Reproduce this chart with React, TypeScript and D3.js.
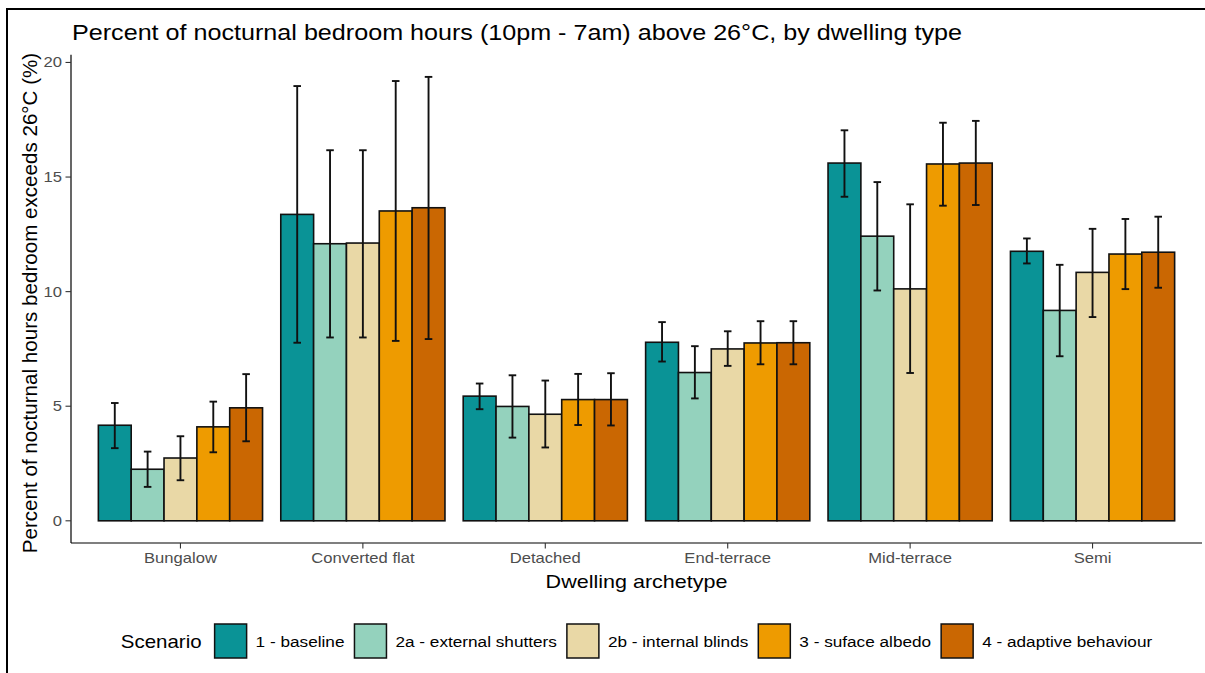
import React from "react";
import * as d3 from "d3";

const categories = ["Bungalow", "Converted flat", "Detached", "End-terrace", "Mid-terrace", "Semi"];
const scenarios = ["1 - baseline", "2a - external shutters", "2b - internal blinds", "3 - suface albedo", "4 - adaptive behaviour"];
const colors = ["#0A9396", "#94D2BD", "#E9D8A6", "#EE9B00", "#CA6702"];

// mean per scenario across categories
const meanBaseline = [4.17, 13.37, 5.44, 7.79, 15.61, 11.76];
const meanShutters = [2.25, 12.09, 4.99, 6.47, 12.42, 9.18];
const meanBlinds = [2.74, 12.12, 4.65, 7.5, 10.12, 10.84];
const meanAlbedo = [4.1, 13.52, 5.29, 7.76, 15.57, 11.64];
const meanAdaptive = [4.93, 13.66, 5.29, 7.77, 15.61, 11.72];

const loBaseline = [3.17, 7.77, 4.87, 6.95, 14.14, 11.23];
const loShutters = [1.48, 8.0, 3.63, 5.34, 10.05, 7.18];
const loBlinds = [1.77, 8.0, 3.2, 6.76, 6.45, 8.89];
const loAlbedo = [2.99, 7.85, 4.18, 6.83, 13.75, 10.11];
const loAdaptive = [3.47, 7.93, 4.16, 6.83, 13.78, 10.17];

const hiBaseline = [5.14, 18.97, 5.99, 8.67, 17.04, 12.32];
const hiShutters = [3.02, 16.17, 6.35, 7.62, 14.78, 11.17];
const hiBlinds = [3.69, 16.17, 6.12, 8.27, 13.81, 12.74];
const hiAlbedo = [5.2, 19.19, 6.41, 8.71, 17.37, 13.17];
const hiAdaptive = [6.4, 19.37, 6.44, 8.71, 17.45, 13.27];

const yTicks = [0, 5, 10, 15, 20];

const titleText = "Percent of nocturnal bedroom hours (10pm - 7am) above 26°C, by dwelling type";
const xTitle = "Dwelling archetype";
const yTitle = "Percent of nocturnal hours bedroom exceeds 26°C (%)";
const legendTitle = "Scenario";

const means = [meanBaseline, meanShutters, meanBlinds, meanAlbedo, meanAdaptive];
const los = [loBaseline, loShutters, loBlinds, loAlbedo, loAdaptive];
const his = [hiBaseline, hiShutters, hiBlinds, hiAlbedo, hiAdaptive];

const W = 1205;
const H = 673;
const FONT = "'Liberation Sans', Arial, Helvetica, sans-serif";
const SX = 1.17;

const panel = { left: 71, right: 1202, top: 54.7, bottom: 543 };

function measure(text: string, size: number): number {
  if (typeof document === "undefined") return text.length * size * 0.5;
  const c = document.createElement("canvas").getContext("2d");
  if (!c) return text.length * size * 0.5;
  c.font = `${size}px 'Liberation Sans', Arial, sans-serif`;
  return c.measureText(text).width * SX;
}

function SText(props: { x: number; y: number; size: number; anchor?: string; fill?: string; children: string }) {
  const { x, y, size, anchor = "start", fill = "#000", children } = props;
  return (
    <text
      transform={`translate(${x},${y}) scale(${SX},1)`}
      fontSize={size}
      fontFamily={FONT}
      textAnchor={anchor}
      fill={fill}
    >
      {children}
    </text>
  );
}

export default function App() {
  const allHi = his.flat();
  const maxV = d3.max(allHi) as number;
  const minV = 0;
  const expand = (maxV - minV) * 0.05;
  const y = d3.scaleLinear().domain([minV - expand, maxV + expand]).range([panel.bottom, panel.top]);

  const x = d3.scaleBand<string>().domain(categories).range([panel.left, panel.right]).paddingInner(0.1).paddingOuter(0.15);
  const xi = d3.scaleBand<string>().domain(scenarios).range([0, x.bandwidth()]).padding(0);
  const bw = xi.bandwidth();
  const capW = bw * 0.23;

  // legend layout
  const legTitleSize = 17.5;
  const legTextSize = 14.7;
  const keyW = 32;
  const keyH = 34;
  const gapTitle = 13;
  const gapKeyLabel = 9;
  const gapItem = 10;
  const titleW = measure(legendTitle, legTitleSize);
  const labelWs = scenarios.map((s) => measure(s, legTextSize));
  const totalW = titleW + gapTitle + labelWs.reduce((a, w) => a + keyW + gapKeyLabel + w, 0) + gapItem * (scenarios.length - 1);
  const legCenter = (panel.left + panel.right) / 2;
  const legStart = legCenter - totalW / 2;
  const legY = 641;
  const itemX: number[] = [];
  let cx = legStart + titleW + gapTitle;
  labelWs.forEach((w) => {
    itemX.push(cx);
    cx += keyW + gapKeyLabel + w + gapItem;
  });

  return (
    <svg width={W} height={H} style={{ position: "absolute", left: 0, top: 0, display: "block", background: "#fff" }}>
      <rect x={0} y={0} width={W} height={H} fill="#fff" />
      {/* outer border */}
      <path d={`M7,${H + 5} L7,9 L${W + 5},9`} fill="none" stroke="#000" strokeWidth={2} />

      {/* title */}
      <SText x={72} y={39.5} size={21.5}>{titleText}</SText>

      {/* bars */}
      {categories.map((cat, ci) => (
        <g key={cat} transform={`translate(${x(cat)},0)`}>
          {scenarios.map((s, si) => (
            <rect
              key={s}
              x={xi(s)}
              y={y(means[si][ci])}
              width={bw}
              height={y(0) - y(means[si][ci])}
              fill={colors[si]}
              stroke="#111"
              strokeWidth={1.6}
            />
          ))}
          {scenarios.map((s, si) => {
            const c = (xi(s) as number) + bw / 2;
            const yl = y(los[si][ci]);
            const yh = y(his[si][ci]);
            return (
              <g key={s + "e"} stroke="#111" strokeWidth={1.9}>
                <line x1={c} x2={c} y1={yl} y2={yh} />
                <line x1={c - capW / 2} x2={c + capW / 2} y1={yl} y2={yl} />
                <line x1={c - capW / 2} x2={c + capW / 2} y1={yh} y2={yh} />
              </g>
            );
          })}
        </g>
      ))}

      {/* y axis */}
      <line x1={panel.left} x2={panel.left} y1={panel.top} y2={panel.bottom} stroke="#000" strokeWidth={1.2} />
      {yTicks.map((t) => (
        <g key={t}>
          <line x1={panel.left - 5.5} x2={panel.left} y1={y(t)} y2={y(t)} stroke="#333" strokeWidth={1.1} />
          <SText x={62} y={y(t) + 5} size={14.2} anchor="end" fill="#4D4D4D">{String(t)}</SText>
        </g>
      ))}

      {/* x axis */}
      <line x1={panel.left} x2={panel.right} y1={panel.bottom} y2={panel.bottom} stroke="#000" strokeWidth={1.2} />
      {categories.map((cat) => {
        const c = (x(cat) as number) + x.bandwidth() / 2;
        return (
          <g key={cat}>
            <line x1={c} x2={c} y1={panel.bottom} y2={panel.bottom + 5.5} stroke="#333" strokeWidth={1.1} />
            <SText x={c} y={563} size={14.2} anchor="middle" fill="#4D4D4D">{cat}</SText>
          </g>
        );
      })}

      {/* axis titles */}
      <SText x={(panel.left + panel.right) / 2} y={588} size={18.4} anchor="middle">{xTitle}</SText>
      <text
        transform={`translate(37,303) rotate(-90)`}
        fontSize={20.6}
        fontFamily={FONT}
        textAnchor="middle"
        fill="#000"
      >
        {yTitle}
      </text>

      {/* legend */}
      <SText x={legStart} y={legY + 6.5} size={legTitleSize}>{legendTitle}</SText>
      {scenarios.map((s, si) => (
        <g key={s}>
          <rect x={itemX[si]} y={legY - keyH / 2} width={keyW} height={keyH} fill={colors[si]} stroke="#111" strokeWidth={1.5} />
          <SText x={itemX[si] + keyW + gapKeyLabel} y={legY + 5.5} size={legTextSize}>{s}</SText>
        </g>
      ))}
    </svg>
  );
}
